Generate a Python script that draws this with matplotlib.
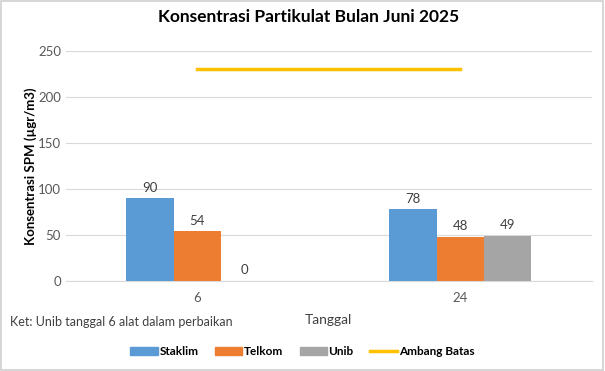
import numpy as np
import matplotlib
matplotlib.use('Agg')
from matplotlib import pyplot as plt
from matplotlib.patches import Rectangle
from matplotlib.lines import Line2D

plt.rcParams['font.family'] = ['Lato', 'DejaVu Sans']

# data
tanggal = ['6', '24']
staklim = [90, 78]
telkom = [54, 48]
unib = [0, 49]
ambang_batas = [230, 230]

series = [('Staklim', staklim, '#5B9BD5'),
          ('Telkom', telkom, '#ED7D31'),
          ('Unib', unib, '#A5A5A5')]

fig = plt.figure(figsize=(6.05, 3.71), dpi=100)
ax = fig.add_axes([0.109, 0.2426, 0.869, 0.62])

x = np.arange(len(tanggal))
w = 0.18
for i, (name, vals, col) in enumerate(series):
    pos = x + (i - 1) * w
    ax.bar(pos, vals, width=w, color=col, label=name, zorder=3)
    for p, v in zip(pos, vals):
        ax.text(p, v + 5, str(v), ha='center', va='bottom', fontsize=9.5, color='#404040')

ax.plot(x, ambang_batas, color='#FFC000', lw=2.5, zorder=4, label='Ambang Batas')

ax.set_xlim(-0.5, 1.5)
ax.set_ylim(0, 250)
ax.set_yticks(range(0, 251, 50))
ax.set_xticks(x)
ax.set_xticklabels(tanggal)
ax.tick_params(length=0, labelsize=9.5, labelcolor='#595959')
ax.tick_params(axis='x', pad=8)
ax.grid(axis='y', color='#D9D9D9', lw=0.8, zorder=0)
for s in ['top', 'right', 'left']:
    ax.spines[s].set_visible(False)
ax.spines['bottom'].set_color('#D9D9D9')

ax.set_xlabel('Tanggal', fontsize=10, color='#404040', labelpad=7)
ax.set_ylabel('Konsentrasi SPM (µgr/m3)', fontsize=9.5, fontweight='bold', color='black', labelpad=1)

fig.suptitle('Konsentrasi Partikulat Bulan Juni 2025', fontsize=12.5, fontweight='bold', y=0.975, x=0.51)
fig.text(0.017, 0.132, 'Ket: Unib tanggal 6 alat dalam perbaikan', fontsize=9, color='#404040', va='center')

handles = [Rectangle((0, 0), 1, 1, color=c) for _, _, c in series]
handles.append(Line2D([0], [0], color='#FFC000', lw=2.5))
labels = [n for n, _, _ in series] + ['Ambang Batas']
leg = fig.legend(handles, labels, loc='center', bbox_to_anchor=(0.5, 0.052), ncol=4,
                 frameon=False, handlelength=2.3, handleheight=0.6, columnspacing=1.4,
                 handletextpad=0.15, prop={'size': 8.5, 'weight': 'bold'})

fig.patches.append(Rectangle((0.002, 0.003), 0.995, 0.993, transform=fig.transFigure,
                             fill=False, edgecolor='#D0D0D0', lw=1.2))

fig.savefig('out.png', dpi=100)
